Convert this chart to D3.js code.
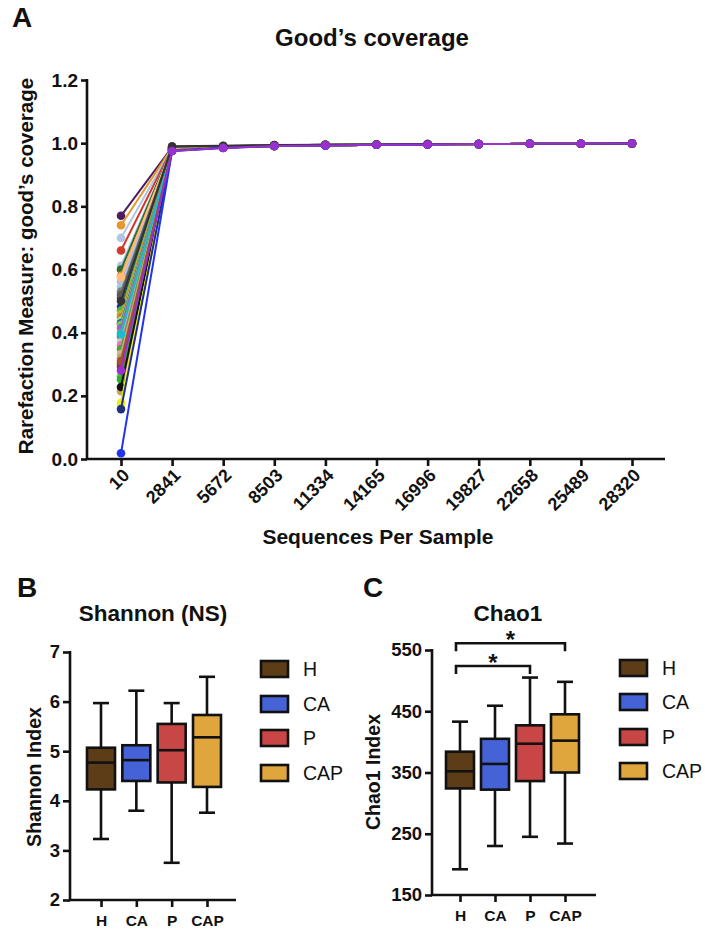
<!DOCTYPE html>
<html><head><meta charset="utf-8">
<script src="https://cdn.jsdelivr.net/npm/d3@7"></script>
<style>
body{margin:0;background:#fff}
svg{display:block}
text{font-family:"Liberation Sans",Arial,Helvetica,sans-serif;fill:#111}
</style>
</head><body>
<svg id="chart" width="705" height="934"></svg>
<script>
// ---------- Panel A data ----------
const seqLabels = ["10","2841","5672","8503","11334","14165","16996","19827","22658","25489","28320"];
const yTicksA = [0,0.2,0.4,0.6,0.8,1.0,1.2];
const seriesColors = [
  "#4b1d5e","#e8962e","#aec7e8","#d0392b","#a9c9ef","#2f6b2f","#ef8a2a","#c5b0d5",
  "#9ecae1","#7f7f7f","#3c5a2a","#1f2f8f","#4caf50","#bcbd22","#c77c2a","#98df8a",
  "#2040c0","#7ccd3c","#9467bd","#8c8c8c","#6b8e23","#c7c7c7","#e377c2","#55a030",
  "#d2b48c","#b5a070","#6b3a2a","#8c2a3a","#66cc33","#33aa33","#c8a060","#17becf",
  "#a0522d","#ffbb78","#5a5a5a","#111111","#f0f000","#e8e830","#203080","#2233ee",
  "#333333","#9b30d0"
];
const seriesValues = [
  [0.770,0.987,0.990,0.993,0.995,0.996,0.997,0.997,0.998,0.998,0.999],
  [0.740,0.986,0.990,0.993,0.995,0.996,0.997,0.997,0.998,0.998,0.999],
  [0.700,0.985,0.989,0.993,0.995,0.996,0.997,0.997,0.998,0.998,0.999],
  [0.660,0.984,0.989,0.993,0.994,0.996,0.996,0.997,0.998,0.998,0.999],
  [0.612,0.983,0.989,0.992,0.994,0.995,0.996,0.997,0.998,0.998,0.999],
  [0.600,0.984,0.989,0.992,0.994,0.995,0.996,0.997,0.998,0.998,0.999],
  [0.580,0.982,0.988,0.992,0.994,0.995,0.996,0.997,0.998,0.998,0.999],
  [0.562,0.983,0.988,0.992,0.994,0.995,0.996,0.997,0.998,0.998,0.999],
  [0.545,0.982,0.988,0.992,0.994,0.995,0.996,0.997,0.998,0.998,0.999],
  [0.530,0.985,0.989,0.993,0.994,0.995,0.996,0.997,0.998,0.998,0.999],
  [0.510,0.983,0.988,0.992,0.994,0.995,0.996,0.997,0.998,0.998,0.999],
  [0.482,0.981,0.988,0.992,0.994,0.995,0.996,0.997,0.998,0.998,0.999],
  [0.470,0.982,0.988,0.992,0.994,0.995,0.996,0.997,0.998,0.998,0.999],
  [0.458,0.980,0.987,0.992,0.994,0.995,0.996,0.997,0.998,0.998,0.999],
  [0.448,0.981,0.987,0.992,0.994,0.995,0.996,0.997,0.998,0.998,0.999],
  [0.438,0.980,0.987,0.991,0.993,0.995,0.996,0.997,0.998,0.998,0.999],
  [0.430,0.981,0.987,0.991,0.993,0.995,0.996,0.997,0.998,0.998,0.999],
  [0.425,0.980,0.987,0.991,0.993,0.995,0.996,0.997,0.998,0.998,0.999],
  [0.415,0.979,0.987,0.991,0.993,0.995,0.996,0.997,0.998,0.998,0.999],
  [0.400,0.980,0.987,0.991,0.993,0.995,0.996,0.997,0.998,0.998,0.999],
  [0.388,0.979,0.987,0.991,0.993,0.995,0.996,0.997,0.998,0.998,0.999],
  [0.370,0.979,0.986,0.991,0.993,0.995,0.996,0.997,0.998,0.998,0.999],
  [0.360,0.978,0.986,0.991,0.993,0.995,0.996,0.997,0.998,0.998,0.999],
  [0.348,0.979,0.986,0.991,0.993,0.995,0.996,0.997,0.998,0.998,0.999],
  [0.332,0.978,0.986,0.991,0.993,0.995,0.996,0.997,0.998,0.998,0.999],
  [0.320,0.978,0.986,0.991,0.993,0.995,0.996,0.997,0.998,0.998,0.999],
  [0.302,0.977,0.986,0.991,0.993,0.995,0.996,0.997,0.998,0.998,0.999],
  [0.292,0.978,0.986,0.991,0.993,0.995,0.996,0.997,0.998,0.998,0.999],
  [0.262,0.977,0.986,0.991,0.993,0.995,0.996,0.997,0.998,0.998,0.999],
  [0.252,0.977,0.986,0.991,0.993,0.995,0.996,0.997,0.998,0.998,0.999],
  [0.215,0.977,0.986,0.991,0.993,0.995,0.996,0.997,0.998,0.998,0.999],
  [0.395,0.980,0.987,0.991,0.993,0.995,0.996,0.997,0.998,0.998,0.999],
  [0.310,0.978,0.986,0.991,0.993,0.995,0.996,0.997,0.998,0.998,0.999],
  [0.575,0.983,0.988,0.992,0.994,0.995,0.996,0.997,0.998,0.998,0.999],
  [0.520,0.988,0.991,0.993,0.995,0.996,0.997,0.997,0.998,0.998,0.999],
  [0.228,0.978,0.986,0.991,0.993,0.995,0.996,0.997,0.998,0.998,0.999],
  [0.178,0.976,0.986,0.991,0.993,0.995,0.996,0.997,0.998,0.998,0.999],
  [0.170,0.976,0.986,0.991,0.993,0.995,0.996,0.997,0.998,0.998,0.999],
  [0.158,0.976,0.986,0.991,0.993,0.995,0.996,0.997,0.998,0.998,0.999],
  [0.018,0.975,0.985,0.991,0.993,0.995,0.996,0.997,0.998,0.998,0.999],
  [0.500,0.990,0.992,0.994,0.995,0.996,0.997,0.997,0.998,0.998,0.999],
  [0.280,0.975,0.985,0.991,0.993,0.995,0.996,0.997,0.998,0.998,0.999]
];

// ---------- Panels B / C data ----------
const groups = ["H","CA","P","CAP"];
const groupColors = ["#5c3d17","#4563d6","#c84646","#dea63c"];
const yTicksB = [2,3,4,5,6,7];
const shannonMin    = [3.23,3.80,2.75,3.76];
const shannonQ1     = [4.23,4.40,4.37,4.28];
const shannonMedian = [4.77,4.82,5.02,5.28];
const shannonQ3     = [5.07,5.12,5.55,5.73];
const shannonMax    = [5.97,6.22,5.97,6.50];
const yTicksC = [150,250,350,450,550];
const chaoMin    = [192,230,245,234];
const chaoQ1     = [324,322,336,350];
const chaoMedian = [352,364,397,402];
const chaoQ3     = [384,405,427,445];
const chaoMax    = [433,459,505,498];
const compFrom   = ["H","H"];
const compTo     = ["CAP","P"];
const compLevel  = [561,524];
const compLabel  = ["*","*"];

const svg = d3.select("#chart");
svg.append("rect").attr("width",705).attr("height",934).attr("fill","#fff");
const SW = 2.6;

// ================= Panel A =================
const xA = d3.scalePoint().domain(seqLabels).range([121,632]);
const yA = d3.scaleLinear().domain([0,1.2]).range([459,80]);
const gA = svg.append("g");

svg.append("text").attr("x",12).attr("y",27).attr("font-size",28).attr("font-weight","bold").text("A");
svg.append("text").attr("x",372).attr("y",46).attr("text-anchor","middle").attr("font-size",24).attr("font-weight","bold").text("Good\u2019s coverage");

// y axis
const axA = gA.append("g").attr("transform","translate(87,0)")
  .call(d3.axisLeft(yA).tickValues(yTicksA).tickFormat(d3.format(".1f")).tickSize(6).tickSizeOuter(0).tickPadding(3));
axA.select(".domain").remove();
axA.selectAll(".tick line").attr("stroke","#111").attr("stroke-width",SW);
axA.selectAll(".tick text").attr("font-size",19).attr("font-weight","bold").attr("font-family",null).attr("fill","#111");
gA.append("line").attr("x1",87).attr("x2",87).attr("y1",yA(1.2)-1).attr("y2",459).attr("stroke","#111").attr("stroke-width",SW);
// x axis
const axAx = gA.append("g").attr("transform","translate(0,459)")
  .call(d3.axisBottom(xA).tickSize(7).tickSizeOuter(0));
axAx.select(".domain").remove();
axAx.selectAll(".tick line").attr("stroke","#111").attr("stroke-width",SW);
axAx.selectAll(".tick text").remove();
gA.append("line").attr("x1",86).attr("x2",665).attr("y1",459).attr("y2",459).attr("stroke","#111").attr("stroke-width",SW);
gA.selectAll(".xlab").data(seqLabels).enter().append("text")
  .attr("class","xlab")
  .attr("transform",d=>`translate(${xA(d)+5},472) rotate(-45)`)
  .attr("text-anchor","end").attr("dy","0.35em")
  .attr("font-size",18).attr("font-weight","bold").text(d=>d);

gA.append("text").attr("x",378).attr("y",544).attr("text-anchor","middle").attr("font-size",21).attr("font-weight","bold").text("Sequences Per Sample");
gA.append("text").attr("transform","translate(33,266) rotate(-90)").attr("text-anchor","middle").attr("font-size",20.5).attr("font-weight","bold").text("Rarefaction Measure: good\u2019s coverage");

const lineA = d3.line().x((d,i)=>xA(seqLabels[i])).y(d=>yA(d));
seriesValues.forEach((vals,si)=>{
  const c = seriesColors[si];
  const gs = gA.append("g");
  gs.append("path").attr("d",lineA(vals)).attr("fill","none").attr("stroke",c).attr("stroke-width",2);
  gs.selectAll("circle").data(vals).enter().append("circle")
    .attr("cx",(d,i)=>xA(seqLabels[i])).attr("cy",d=>yA(d)).attr("r",4.3).attr("fill",c);
});

// ================= Box panels =================
function boxPanel(opts){
  const g = svg.append("g");
  const x = d3.scalePoint().domain(groups).range(opts.xRange);
  const y = d3.scaleLinear().domain(opts.yDomain).range(opts.yRange);
  const x0 = opts.axisX, yb = opts.yRange[0];
  // letter + title
  svg.append("text").attr("x",opts.letterX).attr("y",597).attr("font-size",28).attr("font-weight","bold").text(opts.letter);
  svg.append("text").attr("x",opts.titleX).attr("y",621).attr("text-anchor","middle").attr("font-size",22.5).attr("font-weight","bold").text(opts.title);
  // y axis
  const ay = g.append("g").attr("transform",`translate(${x0},0)`)
    .call(d3.axisLeft(y).tickValues(opts.yTicks).tickFormat(d3.format("d")).tickSize(7).tickSizeOuter(0).tickPadding(3));
  ay.select(".domain").remove();
  ay.selectAll(".tick line").attr("stroke","#111").attr("stroke-width",SW);
  ay.selectAll(".tick text").attr("font-size",18.5).attr("font-weight","bold").attr("font-family",null).attr("fill","#111");
  g.append("line").attr("x1",x0).attr("x2",x0).attr("y1",opts.yRange[1]-1).attr("y2",yb+1).attr("stroke","#111").attr("stroke-width",SW);
  // x axis
  const ax = g.append("g").attr("transform",`translate(0,${yb})`)
    .call(d3.axisBottom(x).tickSize(7).tickSizeOuter(0).tickPadding(8));
  ax.select(".domain").remove();
  ax.selectAll(".tick line").attr("stroke","#111").attr("stroke-width",SW);
  ax.selectAll(".tick text").attr("font-size",15.5).attr("font-weight","bold").attr("font-family",null).attr("fill","#111");
  g.append("line").attr("x1",x0-1).attr("x2",opts.axisEnd).attr("y1",yb).attr("y2",yb).attr("stroke","#111").attr("stroke-width",SW);
  // y label
  g.append("text").attr("transform",`translate(${opts.ylabX},${opts.ylabY}) rotate(-90)`).attr("text-anchor","middle")
    .attr("font-size",19.5).attr("font-weight","bold").text(opts.ylab);
  // boxes
  const bw = 28, cw = 16;
  groups.forEach((k,i)=>{
    const cx = x(k);
    g.append("line").attr("x1",cx).attr("x2",cx).attr("y1",y(opts.max[i])).attr("y2",y(opts.min[i])).attr("stroke","#111").attr("stroke-width",SW);
    g.append("line").attr("x1",cx-cw/2).attr("x2",cx+cw/2).attr("y1",y(opts.max[i])).attr("y2",y(opts.max[i])).attr("stroke","#111").attr("stroke-width",SW);
    g.append("line").attr("x1",cx-cw/2).attr("x2",cx+cw/2).attr("y1",y(opts.min[i])).attr("y2",y(opts.min[i])).attr("stroke","#111").attr("stroke-width",SW);
    g.append("rect").attr("x",cx-bw/2).attr("y",y(opts.q3[i])).attr("width",bw).attr("height",y(opts.q1[i])-y(opts.q3[i]))
      .attr("fill",groupColors[i]).attr("stroke","#111").attr("stroke-width",SW);
    g.append("line").attr("x1",cx-bw/2).attr("x2",cx+bw/2).attr("y1",y(opts.med[i])).attr("y2",y(opts.med[i])).attr("stroke","#111").attr("stroke-width",SW);
  });
  // legend
  groups.forEach((k,i)=>{
    const ly = opts.legY[i];
    g.append("rect").attr("x",opts.legX).attr("y",ly-8).attr("width",27).attr("height",16)
      .attr("fill",groupColors[i]).attr("stroke","#111").attr("stroke-width",SW);
    g.append("text").attr("x",opts.legX+42).attr("y",ly).attr("dy","0.36em").attr("font-size",19.5).text(k);
  });
  return {g,x,y};
}

boxPanel({letter:"B",letterX:17,title:"Shannon (NS)",titleX:153,
  xRange:[101,207],yDomain:[2,7],yRange:[900,652],yTicks:yTicksB,axisX:70,axisEnd:236,
  ylab:"Shannon Index",ylabX:41,ylabY:777,
  min:shannonMin,q1:shannonQ1,med:shannonMedian,q3:shannonQ3,max:shannonMax,
  legX:261,legY:[669,704,738,773]});

const pc = boxPanel({letter:"C",letterX:363,title:"Chao1",titleX:508,
  xRange:[460,565],yDomain:[150,550],yRange:[895,650],yTicks:yTicksC,axisX:432,axisEnd:596,
  ylab:"Chao1 Index",ylabX:380,ylabY:772,
  min:chaoMin,q1:chaoQ1,med:chaoMedian,q3:chaoQ3,max:chaoMax,
  legX:620,legY:[668,702,737,771]});

// significance brackets
compFrom.forEach((f,i)=>{
  const x1 = pc.x(f)-4, x2 = pc.x(compTo[i]), yy = pc.y(compLevel[i]);
  pc.g.append("path").attr("d",`M${x1},${yy+8}V${yy}H${x2}V${yy+8}`).attr("fill","none").attr("stroke","#111").attr("stroke-width",SW);
  pc.g.append("text").attr("x",(x1+x2)/2).attr("y",yy+5).attr("text-anchor","middle").attr("font-size",24).attr("font-weight","bold").text(compLabel[i]);
});
</script>
</body></html>
